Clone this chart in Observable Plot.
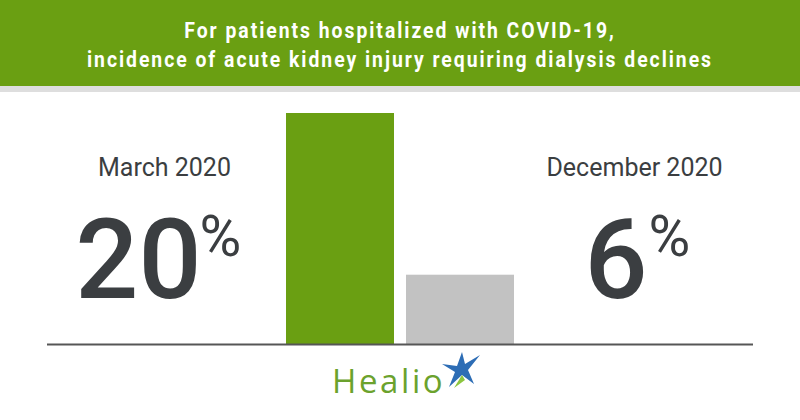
<!DOCTYPE html>
<html>
<head>
<meta charset="utf-8">
<script src="https://cdn.jsdelivr.net/npm/d3@7"></script>
<script src="https://cdn.jsdelivr.net/npm/@observablehq/plot@0.6"></script>
<style>
  html, body { margin: 0; padding: 0; background: #fff; }
  #wrap { position: relative; width: 800px; height: 420px; overflow: hidden; }
  #header {
    position: relative;
    height: 92px; background: #6a9f12; border-bottom: 6px solid #dedede;
    box-sizing: border-box; color: #fff;
    font-family: Roboto, sans-serif; font-weight: bold; font-size: 21.5px;
    letter-spacing: 2.2px;
  }
  #header .line {
    position: absolute; left: 0; width: 800px; text-align: center;
    transform: scaleX(0.9); transform-origin: 400px 0; white-space: nowrap;
    line-height: 1;
  }
  #logo { position: absolute; left: 331px; top: 350px; }
</style>
</head>
<body>
<div id="wrap">
  <div id="header">
    <div class="line" style="top:20px">For patients hospitalized with COVID-19,</div>
    <div class="line" style="top:49px">incidence of acute kidney injury requiring dialysis declines</div>
  </div>
  <div id="chart"></div>
  <svg id="logo" width="160" height="60">
    <text x="1" y="43" font-family="'Open Sans', sans-serif" font-size="33" letter-spacing="2.6" fill="#6ba22d">Healio</text>
    <path d="M131 2 L126 16 L111 14 L124 22 L118 37 L131 25 L143 34 L137 20 L149 5 L134 14 Z" fill="#2d6db5"/>
    <path d="M131 25 L123 38 L134 30 Z" fill="#8cc63f"/>
  </svg>
</div>
<script>
const categories = ["March 2020", "December 2020"];
const values = [20, 6];
const barColors = ["#6a9f12", "#c2c2c2"];
const unit = "%";

const data = categories.map((c, i) => ({cat: c, value: values[i], color: barColors[i]}));

const textColor = "#3b3e41";
const labelDx = [-176, 174];
const numDx = [-139, 187];
const pctDx = [-141, 188];

const chart = Plot.plot({
  width: 800,
  height: 328,
  marginLeft: 47,
  marginRight: 47,
  marginTop: 21,
  marginBottom: 76,
  style: {background: "transparent", overflow: "visible"},
  x: {domain: categories, range: [285, 514], paddingInner: 0.1, paddingOuter: 0, axis: null},
  y: {domain: [0, 20], axis: null},
  color: {type: "identity"},
  marks: [
    Plot.barY(data, {x: "cat", y: "value", fill: "color"}),
    Plot.ruleY([0], {stroke: "#565656", strokeWidth: 2}),
    ...data.map((d, i) => Plot.text([d], {
      x: "cat", text: "cat", frameAnchor: "top", lineAnchor: "bottom",
      dy: 62, dx: labelDx[i], fill: textColor,
      fontFamily: "Roboto", fontSize: 25
    })),
    ...data.map((d, i) => Plot.text([d], {
      x: "cat", text: dd => String(dd.value), frameAnchor: "top", lineAnchor: "bottom",
      dy: 184, dx: numDx[i], textAnchor: "end", fill: textColor,
      fontFamily: "Roboto", fontWeight: 500, fontSize: 111, letterSpacing: -8
    })),
    ...data.map((d, i) => Plot.text([d], {
      x: "cat", text: () => unit, frameAnchor: "top", lineAnchor: "bottom",
      dy: 142, dx: pctDx[i], textAnchor: "start", fill: textColor,
      fontFamily: "Roboto", fontWeight: 400, fontSize: 57
    }))
  ]
});
document.getElementById("chart").appendChild(chart);
</script>
</body>
</html>
